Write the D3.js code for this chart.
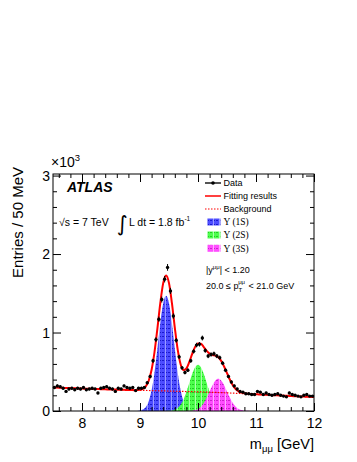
<!DOCTYPE html>
<html lang="en">
<head>
<meta charset="UTF-8">
<title>Upsilon mass fit</title>
<script src="https://cdn.jsdelivr.net/npm/d3@7"></script>
<style>
  body { margin: 0; background: #fff; }
  svg text { font-family: "Liberation Sans", Arial, sans-serif; fill: #000; }
</style>
</head>
<body>
<svg id="chart"></svg>
<script>
// --- data (entries in units of 10^3 per 50 MeV bin) ---
const binStart = 7.5, binWidth = 0.05;
const entries = [
  .30, .32, .31, .29, .25, .28, .29, .27, .29, .28,
  .30, .27, .28, .29, .28, .23, .29, .30, .31, .29,
  .28, .25, .29, .28, .32, .30, .29, .30, .26, .29,
  .29, .30, .36, .44, .64, .91, 1.17, 1.42, 1.68, 1.83,
  1.53, 1.21, .90, .69, .55, .49, .52, .64, .76, .84,
  .85, .93, .77, .70, .72, .73, .70, .68, .61, .52,
  .44, .37, .32, .28, .25, .24, .22, .22, .21, .21,
  .25, .24, .21, .23, .21, .20, .21, .22, .20, .19,
  .18, .23, .21, .20, .19, .18, .20, .21, .19, .19
];

// fit curve, sampled every 50 MeV from 7.50 to 12.00
const fitStart = 7.5;
const fitTotal = [
  .300, .299, .297, .296, .294, .293, .292, .290, .289, .287,
  .286, .285, .284, .282, .281, .280, .279, .278, .276, .275,
  .274, .273, .272, .271, .270, .269, .268, .267, .266, .267,
  .270, .281, .313, .386, .525, .750, 1.051, 1.374, 1.629, 1.726,
  1.629, 1.377, 1.062, .781, .595, .521, .542, .625, .729, .817,
  .861, .856, .815, .766, .731, .713, .705, .684, .639, .567,
  .482, .398, .329, .281, .251, .234, .225, .220, .217, .215,
  .213, .211, .209, .207, .206, .204, .202, .200, .198, .197,
  .195, .193, .191, .189, .188, .186, .184, .183, .181, .179, .178
];

// background, every 250 MeV from 7.5 to 12.0
const bkgStart = 7.5, bkgStep = 0.25;
const background = [.300, .293, .286, .280, .274, .269, .264, .259, .254, .249,
  .244, .238, .231, .222, .213, .204, .195, .186, .178];

// signal components, every 50 MeV
const ups1SStart = 8.90;
const ups1S = [0, .0015, .006, .018, .051, .125, .265, .491, .793, 1.117, 1.373, 1.470,
  1.373, 1.117, .793, .491, .265, .125, .051, .018, .006, .0015, 0];
const ups2SStart = 9.40;
const ups2S = [0, .0007, .0023, .0066, .017, .039, .080, .147, .243, .358, .472, .558, .590,
  .558, .472, .358, .243, .147, .080, .039, .017, .0066, .0023, .0007, 0];
const ups3SStart = 9.80;
const ups3S = [0, .0016, .0046, .012, .027, .055, .102, .168, .249, .328, .388, .410,
  .388, .328, .249, .168, .102, .055, .027, .012, .0046, .0016, 0];

const xTicks = [8, 9, 10, 11, 12];
const xTickLabels = ["8", "9", "10", "11", "12"];
const yTicks = [0, 1, 2, 3];
const yTickLabels = ["0", "1", "2", "3"];

const legendLabels = ["Data", "Fitting results", "Background", "\u03a5 (1S)", "\u03a5 (2S)", "\u03a5 (3S)"];

// --- layout ---
const W = 357, H = 462;
const pL = 53, pR = 314, pT = 174, pB = 411;

const svg = d3.select("#chart").attr("width", W).attr("height", H);

const x = d3.scaleLinear().domain([7.5, 12]).range([pL, pR]);
const y = d3.scaleLinear().domain([0, 3.02]).range([pB, pT]);

// hatch patterns for the signal fills
const defs = svg.append("defs");
function hatch(id, base, dark, light) {
  const p = defs.append("pattern").attr("id", id).attr("patternUnits", "userSpaceOnUse")
    .attr("width", 6).attr("height", 4);
  p.append("rect").attr("width", 6).attr("height", 4).attr("fill", base);
  p.append("rect").attr("x", 0).attr("y", 0).attr("width", 2).attr("height", 1).attr("fill", dark);
  p.append("rect").attr("x", 4).attr("y", 0).attr("width", 1).attr("height", 1).attr("fill", dark);
  p.append("rect").attr("x", 3).attr("y", 0).attr("width", 1).attr("height", 4).attr("fill", light);
}
hatch("h1", "#4d4dff", "#1a1acc", "#9a9aff");
hatch("h2", "#4dff4d", "#22cc22", "#aaffaa");
hatch("h3", "#ff4dff", "#cc22cc", "#ffaaff");

function pts(arr, start, step) {
  return arr.map((v, i) => [start + i * step, v]);
}

const area = d3.area().x(d => x(d[0])).y0(y(0)).y1(d => y(d[1])).curve(d3.curveMonotoneX);
const line = d3.line().x(d => x(d[0])).y(d => y(d[1])).curve(d3.curveMonotoneX);

// signal fills
[[ups1S, ups1SStart, "h1"], [ups2S, ups2SStart, "h2"], [ups3S, ups3SStart, "h3"]].forEach(c => {
  svg.append("path").datum(pts(c[0], c[1], 0.05)).attr("d", area).attr("fill", "url(#" + c[2] + ")");
});

// background (dotted)
svg.append("path").datum(pts(background, bkgStart, bkgStep)).attr("d", line)
  .attr("fill", "none").attr("stroke", "#ff0000").attr("stroke-width", 1.2).attr("stroke-dasharray", "1.5,1.5");

// total fit
svg.append("path").datum(pts(fitTotal, fitStart, 0.05)).attr("d", line)
  .attr("fill", "none").attr("stroke", "#ff0000").attr("stroke-width", 2);

// data points with statistical errors
const data = entries.map((v, i) => ({ m: binStart + (i + 0.5) * binWidth, v: v, e: Math.sqrt(v * 1000) / 1000 }));
const dg = svg.append("g");
dg.selectAll("line").data(data).enter().append("line")
  .attr("x1", d => x(d.m)).attr("x2", d => x(d.m))
  .attr("y1", d => y(d.v - d.e)).attr("y2", d => y(d.v + d.e))
  .attr("stroke", "#000").attr("stroke-width", 1);
dg.selectAll("circle").data(data).enter().append("circle")
  .attr("cx", d => x(d.m)).attr("cy", d => y(d.v)).attr("r", 1.7).attr("fill", "#000");

// axes (ticks inside, on all four sides)
const xMinor = d3.range(7.6, 12, 0.2).filter(v => Math.abs(v - Math.round(v)) > 0.01);
const yMinor = d3.range(0.2, 3.02, 0.2).filter(v => Math.abs(v - Math.round(v)) > 0.01);

function styleAxis(g) {
  g.select(".domain").remove();
  g.selectAll("line").attr("stroke", "#000");
  g.selectAll("text").attr("font-size", 14).attr("font-family", "Liberation Sans, Arial, sans-serif");
}

svg.append("g").attr("transform", `translate(0,${pB})`)
  .call(d3.axisBottom(x).tickValues(xTicks).tickSize(-8).tickPadding(7).tickFormat((d, i) => xTickLabels[i]))
  .call(styleAxis);
svg.append("g").attr("transform", `translate(0,${pB})`)
  .call(d3.axisBottom(x).tickValues(xMinor).tickSize(-4).tickFormat(""))
  .call(styleAxis);
svg.append("g").attr("transform", `translate(0,${pT})`)
  .call(d3.axisTop(x).tickValues(xTicks).tickSize(-8).tickFormat(""))
  .call(styleAxis);
svg.append("g").attr("transform", `translate(0,${pT})`)
  .call(d3.axisTop(x).tickValues(xMinor).tickSize(-4).tickFormat(""))
  .call(styleAxis);

svg.append("g").attr("transform", `translate(${pL},0)`)
  .call(d3.axisLeft(y).tickValues(yTicks).tickSize(-8).tickPadding(3).tickFormat((d, i) => yTickLabels[i]))
  .call(styleAxis);
svg.append("g").attr("transform", `translate(${pL},0)`)
  .call(d3.axisLeft(y).tickValues(yMinor).tickSize(-4).tickFormat(""))
  .call(styleAxis);
svg.append("g").attr("transform", `translate(${pR},0)`)
  .call(d3.axisRight(y).tickValues(yTicks).tickSize(-8).tickFormat(""))
  .call(styleAxis);
svg.append("g").attr("transform", `translate(${pR},0)`)
  .call(d3.axisRight(y).tickValues(yMinor).tickSize(-4).tickFormat(""))
  .call(styleAxis);

// frame
svg.append("rect").attr("x", pL).attr("y", pT).attr("width", pR - pL).attr("height", pB - pT)
  .attr("fill", "none").attr("stroke", "#000").attr("stroke-width", 1);

// axis titles
svg.append("text").attr("transform", "translate(22.5,167) rotate(-90)")
  .attr("text-anchor", "end").attr("font-size", 15).text("Entries / 50 MeV");

const xt = svg.append("text").attr("x", pR).attr("y", 449).attr("text-anchor", "end").attr("font-size", 14.5);
xt.append("tspan").text("m");
xt.append("tspan").attr("font-size", 9.5).attr("dy", 3).text("\u03bc\u03bc");
xt.append("tspan").attr("dy", -3).text(" [GeV]");

const ex = svg.append("text").attr("x", 51).attr("y", 167).attr("font-size", 14);
ex.append("tspan").text("\u00d710");
ex.append("tspan").attr("font-size", 9.5).attr("dy", -6).text("3");

// ATLAS label and energy / luminosity
svg.append("text").attr("x", 67).attr("y", 192).attr("font-size", 14)
  .attr("font-weight", "bold").attr("font-style", "italic").text("ATLAS");

svg.append("text").attr("x", 59).attr("y", 225.5).attr("font-size", 10.5).text("\u221as = 7 TeV");
svg.append("text").attr("x", 117).attr("y", 231).attr("font-size", 21)
  .style("font-family", "DejaVu Sans").text("\u222b");
const lum = svg.append("text").attr("x", 129).attr("y", 225.5).attr("font-size", 10.5);
lum.append("tspan").text("L dt = 1.8 fb");
lum.append("tspan").attr("font-size", 6.5).attr("dy", -4.5).text("-1");

// legend
const legX0 = 205, legX1 = 221, legText = 223.5;
const rowY = [183, 196, 209, 222, 235, 248.3];
const lg = svg.append("g");
lg.append("line").attr("x1", legX0).attr("x2", legX1).attr("y1", rowY[0]).attr("y2", rowY[0])
  .attr("stroke", "#555").attr("stroke-width", 2);
lg.append("circle").attr("cx", (legX0 + legX1) / 2).attr("cy", rowY[0]).attr("r", 1.8).attr("fill", "#000");
lg.append("line").attr("x1", legX0).attr("x2", legX1).attr("y1", rowY[1]).attr("y2", rowY[1])
  .attr("stroke", "#ff0000").attr("stroke-width", 1.5);
lg.append("line").attr("x1", legX0).attr("x2", legX1).attr("y1", rowY[2]).attr("y2", rowY[2])
  .attr("stroke", "#ff0000").attr("stroke-width", 1.2).attr("stroke-dasharray", "1.5,1.5");
["h1", "h2", "h3"].forEach((h, i) => {
  lg.append("rect").attr("x", 207).attr("y", rowY[3 + i] - 3.5).attr("width", 13.5).attr("height", 7)
    .attr("fill", "url(#" + h + ")");
});
legendLabels.forEach((t, i) => {
  const tx = lg.append("text").attr("x", legText).attr("y", rowY[i] + 3.2).attr("font-size", 9).text(t);
  if (i >= 3) tx.style("font-family", "Liberation Serif").attr("font-size", 9.5);
});

// selection cuts
const c1 = svg.append("text").attr("x", 206).attr("y", 272.5).attr("font-size", 9);
c1.append("tspan").text("|y");
c1.append("tspan").attr("font-size", 6).attr("dy", -4).text("\u03bc\u03bc");
c1.append("tspan").attr("dy", 4).text("| < 1.20");

const c2 = svg.append("text").attr("x", 206).attr("y", 289).attr("font-size", 9);
c2.append("tspan").text("20.0 \u2264 p");
c2.append("tspan").attr("font-size", 6).attr("dy", 3).text("T");
c2.append("tspan").attr("font-size", 6).attr("dx", -4).attr("dy", -8).text("\u03bc\u03bc");
c2.append("tspan").attr("dy", 5).attr("dx", 1).text(" < 21.0 GeV");
</script>
</body>
</html>
